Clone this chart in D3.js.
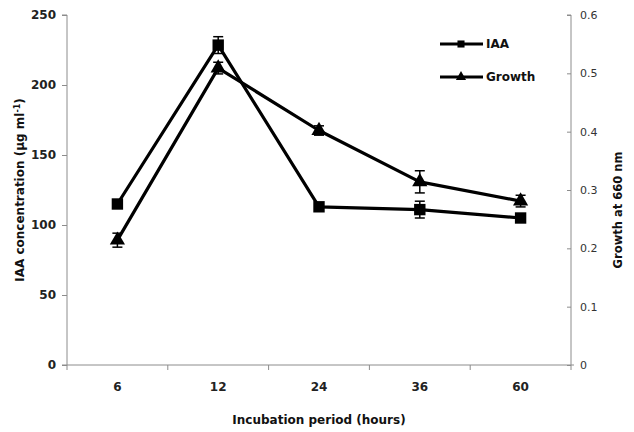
<!DOCTYPE html>
<html>
<head>
<meta charset="utf-8">
<script src="https://cdn.jsdelivr.net/npm/d3@7"></script>
<style>
  body { margin: 0; background: #fff; }
  text { font-family: "DejaVu Sans", "Liberation Sans", sans-serif; }
</style>
</head>
<body>
<div id="chart"></div>
<script>
// Data
const periods = ["6", "12", "24", "36", "60"];
const iaa = [115, 228.5, 113, 111, 105];
const iaaErr = [2, 6, 2, 6, 2];
const growth = [0.214, 0.509, 0.402, 0.314, 0.281];
const growthErr = [0.012, 0.01, 0.008, 0.019, 0.01];
const leftTicks = [0, 50, 100, 150, 200, 250];
const rightTicks = [0, 0.1, 0.2, 0.3, 0.4, 0.5, 0.6];

const width = 634, height = 432;
const margin = { top: 15, right: 63, bottom: 67, left: 67 };

const svg = d3.select("#chart").append("svg")
    .attr("width", width)
    .attr("height", height);

const x = d3.scaleBand()
    .domain(periods)
    .range([margin.left, width - margin.right]);

const yLeft = d3.scaleLinear()
    .domain([0, 250])
    .range([height - margin.bottom, margin.top]);

const yRight = d3.scaleLinear()
    .domain([0, 0.6])
    .range([height - margin.bottom, margin.top]);

const axisColor = "#8c8c8c";

// Left axis
const gl = svg.append("g")
    .attr("transform", `translate(${margin.left},0)`)
    .call(d3.axisLeft(yLeft).tickValues(leftTicks).tickSize(5).tickPadding(6));
gl.selectAll("text").style("font-size", "12px").style("font-weight", "bold").attr("fill", "#222");

// Right axis, ticks pointing inward
const gr = svg.append("g")
    .attr("transform", `translate(${width - margin.right},0)`)
    .call(d3.axisRight(yRight).tickValues(rightTicks).tickFormat(d => d === 0 ? "0" : d3.format(".1f")(d)).tickSize(0).tickPadding(9));
gr.selectAll(".tick").append("line").attr("x1", -4).attr("x2", 0).attr("stroke", axisColor);
gr.selectAll("text").style("font-size", "11px").attr("fill", "#333");

// Bottom axis with ticks at band edges
const gx = svg.append("g")
    .attr("transform", `translate(0,${height - margin.bottom})`);
gx.append("line")
    .attr("x1", margin.left).attr("x2", width - margin.right + 3)
    .attr("stroke", axisColor);
const edges = periods.map(p => x(p)).concat([x.range()[1]]);
gx.selectAll(".edge").data(edges).enter().append("line")
    .attr("x1", d => d).attr("x2", d => d)
    .attr("y1", 0).attr("y2", 5)
    .attr("stroke", axisColor);
gx.selectAll(".lbl").data(periods).enter().append("text")
    .attr("x", d => x(d) + x.bandwidth() / 2)
    .attr("y", 26)
    .attr("text-anchor", "middle")
    .style("font-size", "12px").style("font-weight", "bold").attr("fill", "#222")
    .text(d => d);

svg.selectAll(".domain").attr("stroke", axisColor);
svg.selectAll(".tick line").attr("stroke", axisColor);
gl.select(".domain").attr("d", `M-5,${yLeft(250)}H0V${yLeft(0)}H-5`);
gr.select(".domain").attr("d", `M-4,${yRight(0.6)}H0V${yRight(0)}`);

// Axis titles
svg.append("text")
    .attr("transform", `translate(24,${(margin.top + height - margin.bottom) / 2}) rotate(-90)`)
    .attr("text-anchor", "middle")
    .style("font-size", "12px").style("font-weight", "bold").attr("fill", "#111")
    .html('IAA concentration (µg ml<tspan dy="-4" style="font-size:8px">-1</tspan><tspan dy="4">)</tspan>');

svg.append("text")
    .attr("transform", `translate(622,${(margin.top + height - margin.bottom) / 2 + 20}) rotate(-90)`)
    .attr("text-anchor", "middle")
    .style("font-size", "11.5px").style("font-weight", "bold").attr("fill", "#111")
    .text("Growth at 660 nm");

svg.append("text")
    .attr("x", (margin.left + width - margin.right) / 2)
    .attr("y", 424)
    .attr("text-anchor", "middle")
    .style("font-size", "12px").style("font-weight", "bold").attr("fill", "#111")
    .text("Incubation period (hours)");

const cx = d => x(d) + x.bandwidth() / 2;
const iaaData = periods.map((p, i) => ({ p, v: iaa[i], e: iaaErr[i] }));
const growthData = periods.map((p, i) => ({ p, v: growth[i], e: growthErr[i] }));

function drawSeries(data, y, symbolType, size) {
    const g = svg.append("g");
    g.append("path")
        .datum(data)
        .attr("fill", "none")
        .attr("stroke", "#000")
        .attr("stroke-width", 3.2)
        .attr("stroke-linejoin", "round")
        .attr("d", d3.line().x(d => cx(d.p)).y(d => y(d.v)));
    // error bars
    const eb = g.selectAll(".eb").data(data).enter().append("g");
    eb.append("line")
        .attr("x1", d => cx(d.p)).attr("x2", d => cx(d.p))
        .attr("y1", d => y(d.v - d.e)).attr("y2", d => y(d.v + d.e))
        .attr("stroke", "#000").attr("stroke-width", 1.5);
    [-1, 1].forEach(s => {
        eb.append("line")
            .attr("x1", d => cx(d.p) - 5).attr("x2", d => cx(d.p) + 5)
            .attr("y1", d => y(d.v + s * d.e)).attr("y2", d => y(d.v + s * d.e))
            .attr("stroke", "#000").attr("stroke-width", 1.5);
    });
    g.selectAll(".m").data(data).enter().append("path")
        .attr("transform", d => `translate(${cx(d.p)},${y(d.v)})`)
        .attr("d", d3.symbol().type(symbolType).size(size))
        .attr("fill", "#000");
}

drawSeries(iaaData, yLeft, d3.symbolSquare, 130);
drawSeries(growthData, yRight, d3.symbolTriangle, 100);

// Legend
const legend = svg.append("g");
const items = [
    { name: "IAA", sym: d3.symbolSquare, size: 50, y: 44 },
    { name: "Growth", sym: d3.symbolTriangle, size: 45, y: 77 }
];
items.forEach(it => {
    legend.append("line")
        .attr("x1", 440).attr("x2", 483)
        .attr("y1", it.y).attr("y2", it.y)
        .attr("stroke", "#000").attr("stroke-width", 3.2);
    legend.append("path")
        .attr("transform", `translate(461,${it.y})`)
        .attr("d", d3.symbol().type(it.sym).size(it.size))
        .attr("fill", "#000");
    legend.append("text")
        .attr("x", 486).attr("y", it.y + 4)
        .style("font-size", "12px").style("font-weight", "bold").attr("fill", "#111")
        .text(it.name);
});
</script>
</body>
</html>
